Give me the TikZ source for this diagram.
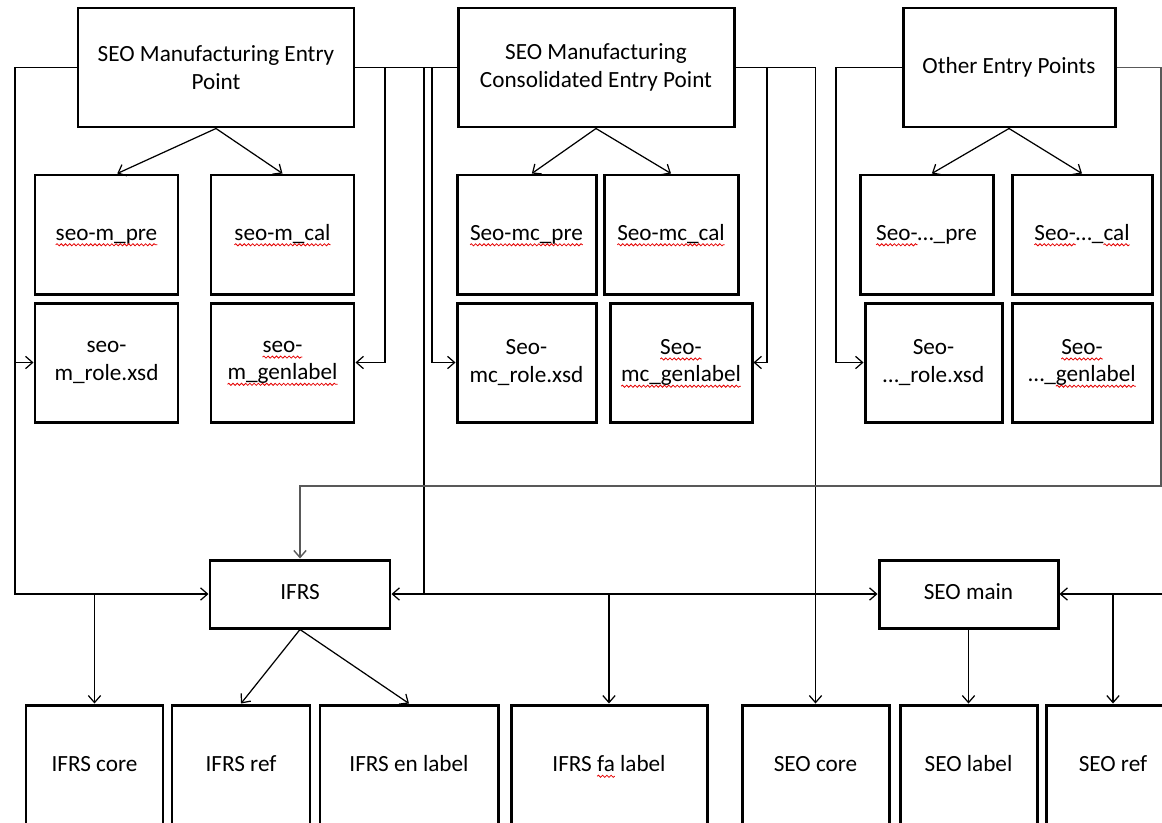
\documentclass[tikz,border=0pt]{standalone}
\usepackage{fontspec}
\setmainfont{Carlito}
\usetikzlibrary{arrows.meta,decorations.pathmorphing}

% red wavy underline under a word
\newcommand\spell[1]{\tikz[baseline=(w.base)]{\node[inner sep=0pt,outer sep=0pt,minimum width=0pt,minimum height=0pt,text height=,text depth=,draw=none] (w) {#1};
  \draw[overlay,red!90!black,line width=0.45pt,decorate,decoration={snake,amplitude=0.6pt,segment length=2.4pt}]
    ([yshift=-2.6pt]w.base west) -- ([yshift=-2.6pt]w.base east);}}

\begin{document}
\begin{tikzpicture}[x=0.02cm,y=-0.02cm]
            \tikzset{
                box/.style={draw,line width=1.7pt,inner sep=2pt,align=center,
                    font=\fontsize{13.2}{15.5}\selectfont},
                single/.style={text height=9.5pt,text depth=3pt},
                dims/.style 2 args={minimum width=#1*0.02cm,minimum height=#2*0.02cm},
                wire/.style={line width=0.7pt},
                link/.style={wire,-{Straight Barb[length=4pt,width=7pt]}},
                feed/.style={link,draw=black!65,line width=0.8pt},}
            \useasboundingbox (0,0) rectangle (1162,822);
            % entry points
            \node[box,dims={276}{119}] (ep1) at (216,67.5) {SEO Manufacturing Entry\\Point};
            \node[box,dims={276}{119}] (ep2) at (596,67.5) {SEO Manufacturing\\Consolidated Entry Point};
            \node[box,single,dims={212}{119}] (ep3) at (1009,67.5) {Other Entry Points};
            % linkbases
            \node[box,single,dims={143}{119}] (mpre) at (106.5,234.5) {\spell{seo-m\_pre}};
            \node[box,single,dims={143}{119}] (mcal) at (282.5,234.5) {\spell{seo-m\_cal}};
            \node[box,single,dims={139}{119}] (mcpre) at (526.5,234.5) {\spell{Seo-mc\_pre}};
            \node[box,single,dims={134}{119}] (mccal) at (671,234.5) {\spell{Seo-mc\_cal}};
            \node[box,single,dims={133}{119}] (opre) at (926.5,234.5) {\spell{Seo-}…\_pre};
            \node[box,single,dims={140}{119}] (ocal) at (1082,234.5) {\spell{Seo-}…\_\spell{cal}};
            \node[box,dims={143}{119}] (mrole) at (106.5,362.5) {seo-\\m\_role.xsd};
            \node[box,dims={143}{119}] (mgen) at (282.5,362.5) {\spell{seo-}\\\spell{m\_genlabel}};
            \node[box,dims={139}{119}] (mcrole) at (526.5,362.5) {Seo-\\mc\_role.xsd};
            \node[box,dims={142}{119}] (mcgen) at (681,362.5) {\spell{Seo-}\\\spell{mc\_genlabel}};
            \node[box,dims={137}{119}] (orole) at (933.5,362.5) {Seo-\\…\_role.xsd};
            \node[box,dims={140}{119}] (ogen) at (1082,362.5) {\spell{Seo-}\\…\_\spell{genlabel}};
            % taxonomies
            \node[box,single,dims={180}{68}] (ifrs) at (300,594) {IFRS};
            \node[box,single,dims={179}{68}] (seomain) at (968.5,594) {SEO main};
            \node[box,single,dims={137}{122}] (ifrscore) at (94.5,766) {IFRS core};
            \node[box,single,dims={138}{122}] (ifrsref) at (241,766) {IFRS ref};
            \node[box,single,dims={178}{122}] (ifrsen) at (409,766) {IFRS en label};
            \node[box,single,dims={196}{122}] (ifrsfa) at (609,766) {IFRS \spell{fa} label};
            \node[box,single,dims={147}{122}] (seocore) at (815.5,766) {SEO core};
            \node[box,single,dims={137}{122}] (seolabel) at (968.5,766) {SEO label};
            \node[box,single,dims={134}{122}] (seoref) at (1113,766) {SEO ref};
            % bus lines
            \coordinate (xa) at (15,0);
            \coordinate (xb) at (385,0);
            \coordinate (xc) at (424,0);
            \coordinate (xd) at (432,0);
            \coordinate (xe) at (767,0);
            \coordinate (xf) at (836,0);
            \coordinate (xg) at (1161,0);
            \coordinate (xr) at (1170,0);
            \coordinate (yh) at (0,486);
            \draw[link] (ep1.south) -- (mpre.80);
            \draw[link] (ep1.south) -- (mcal.north);
            \draw[link] (ep2.south) -- (mcpre.85);
            \draw[link] (ep2.south) -- (mccal.north);
            \draw[link] (ep3.south) -- (opre.85);
            \draw[link] (ep3.south) -- (ocal.north);
            \draw[link] (ep1.west) -| (xa |- ifrs.west) -- (ifrs.west);
            \draw[link] (xa |- mrole.west) -- (mrole.west);
            \draw[link] (ifrscore.north |- ifrs.west) -- (ifrscore.north);
            \draw[wire] (ep1.east) -- (ep2.west);
            \draw[link] (xb |- ep1.east) |- (mgen.east);
            \draw[link] (xc |- ep1.east) |- (ifrs.east);
            \draw[link] (xc |- ifrs.east) -- (seomain.west);
            \draw[link] (ifrsfa.north |- ifrs.east) -- (ifrsfa.north);
            \draw[link] (xd |- ep1.east) |- (mcrole.west);
            \draw[link] (ep2.east) -| (seocore.north);
            \draw[link] (xe |- ep2.east) |- (mcgen.east);
            \draw[link] (ep3.west) -| (xf |- orole.west) -- (orole.west);
            \draw[feed] (ep3.east) -| (xg |- yh) -| (ifrs.north);
            \draw[link] (xr |- seomain.east) -- (seomain.east);
            \draw[link] (seoref.north |- seomain.east) -- (seoref.north);
            \draw[link] (seomain.south) -- (seolabel.north);
            \draw[link] (ifrs.south) -- (ifrsref.north);
            \draw[link] (ifrs.south) -- (ifrsen.north);
        \end{tikzpicture}
\end{document}
